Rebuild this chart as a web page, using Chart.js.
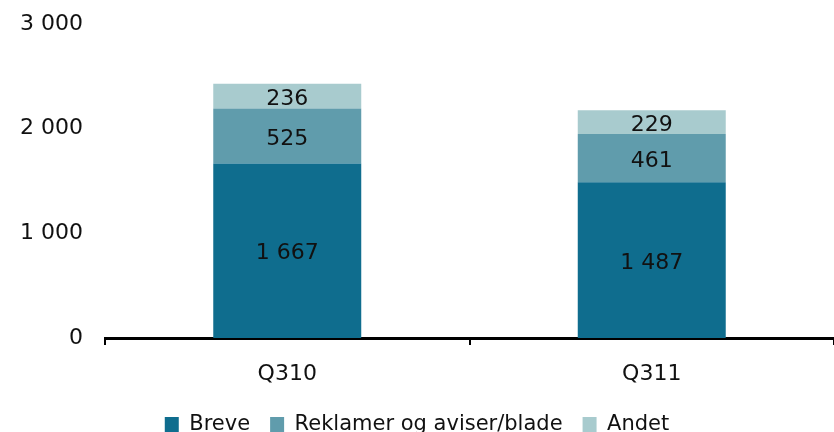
<!DOCTYPE html>
<html>
<head>
<meta charset="utf-8">
<script src="https://cdn.jsdelivr.net/npm/chart.js@4/dist/chart.umd.min.js"></script>
<style>
  html, body { margin: 0; padding: 0; background: #fff; overflow: hidden; }
  #wrap { width: 834px; height: 445px; }
</style>
</head>
<body>
<div id="wrap"><canvas id="chart" width="834" height="445"></canvas></div>
<script>
// data
const quarters = ['Q310', 'Q311'];
const breve = [1667, 1487];
const reklamer = [525, 461];
const andet = [236, 229];
const yTicks = [0, 1000, 2000, 3000];

const fontFamily = '"DejaVu Sans", Verdana, sans-serif';

function fmt(v) {
    return String(v).replace(/\B(?=(\d{3})+(?!\d))/g, ' ');
}

// writes the value in the middle of every bar segment
const segmentLabels = {
    id: 'segmentLabels',
    afterDatasetsDraw(chart) {
        const ctx = chart.ctx;
        ctx.save();
        ctx.font = '22px ' + fontFamily;
        ctx.fillStyle = '#111';
        ctx.textAlign = 'center';
        ctx.textBaseline = 'middle';
        chart.data.datasets.forEach((ds, i) => {
            chart.getDatasetMeta(i).data.forEach((bar, j) => {
                const y = (bar.y + bar.base) / 2 + 3;
                ctx.fillText(fmt(ds.data[j]), bar.x, y);
            });
        });
        ctx.restore();
    }
};

new Chart(document.querySelector('#chart').getContext('2d'), {
    type: 'bar',
    data: {
        labels: quarters,
        datasets: [
            { label: 'Breve', data: breve, backgroundColor: '#0f6d8e' },
            { label: 'Reklamer og aviser/blade', data: reklamer, backgroundColor: '#609cac' },
            { label: 'Andet', data: andet, backgroundColor: '#a8cbce' }
        ]
    },
    options: {
        responsive: false,
        animation: false,
        events: [],
        layout: { padding: { top: 24, right: 0, left: 0, bottom: 0 } },
        datasets: { bar: { categoryPercentage: 0.406, barPercentage: 1 } },
        plugins: {
            tooltip: { enabled: false },
            legend: {
                position: 'bottom',
                labels: {
                    color: '#111',
                    font: { family: fontFamily, size: 21 },
                    boxWidth: 14,
                    boxHeight: 15,
                    padding: 20
                }
            }
        },
        scales: {
            x: {
                stacked: true,
                afterFit(scale) {
                    scale.height = 56;
                },
                border: { display: true, color: '#000', width: 3 },
                grid: {
                    display: true,
                    offset: true,
                    drawOnChartArea: false,
                    drawTicks: true,
                    tickLength: 7,
                    color: '#000',
                    lineWidth: 2
                },
                ticks: {
                    color: '#111',
                    font: { family: fontFamily, size: 22 },
                    padding: 16
                }
            },
            y: {
                stacked: true,
                min: 0,
                max: 3000,
                afterBuildTicks(scale) {
                    scale.ticks = yTicks.map(v => ({ value: v }));
                },
                afterFit(scale) {
                    scale.width = 105;
                    scale.paddingTop = 0;
                    scale.paddingBottom = 0;
                },
                border: { display: false },
                grid: { display: false, drawTicks: false },
                ticks: {
                    color: '#111',
                    font: { family: fontFamily, size: 22 },
                    padding: 22,
                    callback: v => fmt(v)
                }
            }
        }
    },
    plugins: [segmentLabels]
});
</script>
</body>
</html>
